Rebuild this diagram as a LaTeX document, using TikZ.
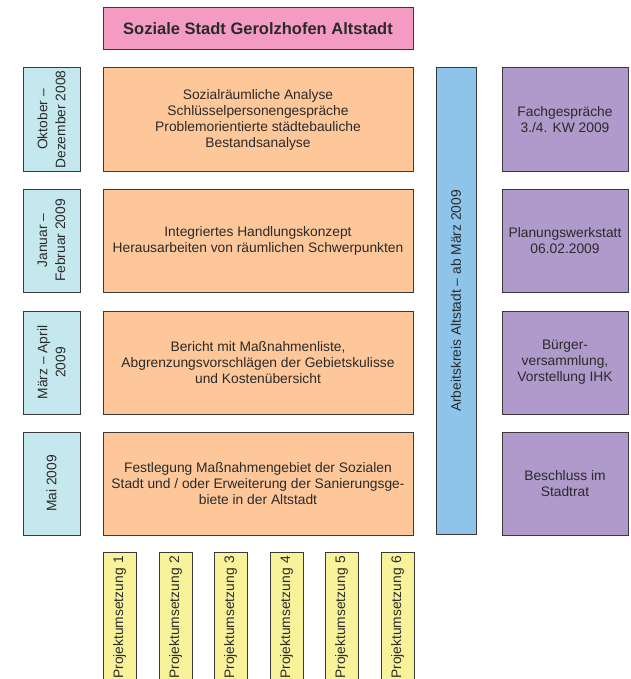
\documentclass[tikz,border=0pt]{standalone}
\usepackage{fontspec}
\setmainfont{Liberation Sans}
\definecolor{cpink}{HTML}{F49BC4}
\definecolor{corange}{HTML}{FEC79A}
\definecolor{clblue}{HTML}{C5E8EE}
\definecolor{cblue}{HTML}{8EC4EA}
\definecolor{cpurple}{HTML}{B09ACB}
\definecolor{cyellow}{HTML}{F8F29B}
\definecolor{cline}{HTML}{3A3A3A}
\definecolor{ctext}{HTML}{2A2A2A}
\tikzset{
  basebox/.style={draw=cline, line width=1pt, rectangle, inner sep=2pt, align=center,
    text=ctext, font=\fontsize{13.8}{16}\selectfont},
  titlebox/.style={basebox, fill=cpink, minimum width=310pt, minimum height=42pt,
    font=\bfseries\fontsize{16.5}{19}\selectfont},
  datebox/.style={basebox, fill=clblue, rotate=90, minimum width=103pt, minimum height=57pt,
    font=\fontsize{13.8}{18}\selectfont},
  taskbox/.style={basebox, fill=corange, minimum width=310pt, minimum height=103pt},
  akbox/.style={basebox, fill=cblue, rotate=90, minimum width=466pt, minimum height=40pt},
  eventbox/.style={basebox, fill=cpurple, minimum width=126pt, minimum height=103pt},
  projbox/.style={basebox, fill=cyellow, rotate=90, minimum width=148pt, minimum height=33pt,
    inner xsep=4pt, text width=140pt, align=right}
}
\begin{document}
\begin{tikzpicture}[x=1pt,y=-1pt]
\useasboundingbox (0,0) rectangle (630,679);
\clip (0,0) rectangle (630,679);
\node[titlebox] (title) at (258,29) {Soziale Stadt Gerolzhofen Altstadt};

\node[datebox] (d1) at (51.5,119.5) {Oktober –\\Dezember 2008};
\node[datebox] (d2) at (51.5,240.5) {Januar –\\Februar 2009};
\node[datebox] (d3) at (51.5,362.5) {März – April\\2009};
\node[datebox] (d4) at (51.5,483.5) {Mai 2009};

\node[taskbox] (t1) at (258,119.5) {Sozialräumliche Analyse\\Schlüsselpersonengespräche\\Problemorientierte städtebauliche\\Bestandsanalyse};
\node[taskbox] (t2) at (258,240.5) {Integriertes Handlungskonzept\\Herausarbeiten von räumlichen Schwerpunkten};
\node[taskbox] (t3) at (258,362.5) {Bericht mit Maßnahmenliste,\\Abgrenzungsvorschlägen der Gebietskulisse\\und Kostenübersicht};
\node[taskbox] (t4) at (258,483.5) {Festlegung Maßnahmengebiet der Sozialen\\Stadt und / oder Erweiterung der Sanierungsge-\\biete in der Altstadt};

\node[akbox] (ak) at (456,301) {Arbeitskreis Altstadt – ab März 2009};

\node[eventbox] (e1) at (565,119.5) {Fachgespräche\\3./4. KW 2009};
\node[eventbox] (e2) at (565,240.5) {Planungswerkstatt\\06.02.2009};
\node[eventbox] (e3) at (565,362.5) {Bürger-\\versammlung,\\Vorstellung IHK};
\node[eventbox] (e4) at (565,483.5) {Beschluss im\\Stadtrat};

\node[projbox] (p1) at (119.5,626) {Projektumsetzung 1};
\node[projbox] (p2) at (175.5,626) {Projektumsetzung 2};
\node[projbox] (p3) at (230.5,626) {Projektumsetzung 3};
\node[projbox] (p4) at (286.5,626) {Projektumsetzung 4};
\node[projbox] (p5) at (341.5,626) {Projektumsetzung 5};
\node[projbox] (p6) at (397.5,626) {Projektumsetzung 6};
\end{tikzpicture}
\end{document}
